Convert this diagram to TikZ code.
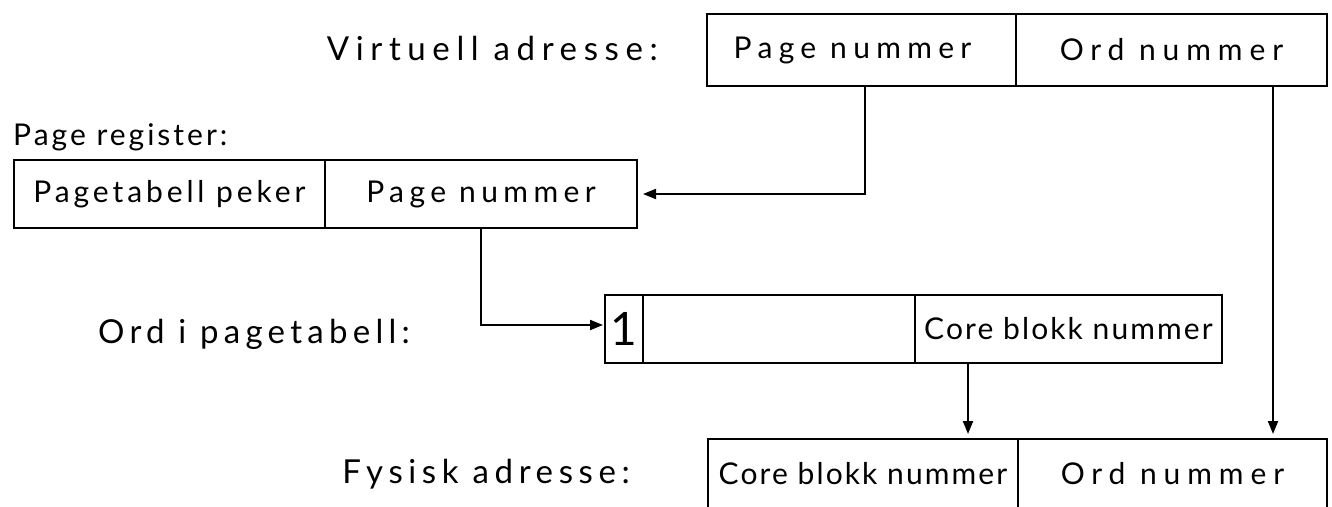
\documentclass[tikz,border=0pt]{standalone}
\usepackage{fontspec}
\setmainfont{Lato}
\newcommand{\lsp}[2]{{\addfontfeature{LetterSpace=#1}#2}}
\usetikzlibrary{arrows.meta}
\begin{document}
\begin{tikzpicture}[x=1pt,y=-1pt,
  cell/.style={draw,line width=2pt,inner sep=0pt,minimum height=70pt,font=\fontsize{30}{33}\selectfont},
  lbl/.style={inner sep=0pt,font=\fontsize{33}{36}\selectfont},
  arr/.style={line width=2pt,-{Triangle[length=13pt,width=10pt]}}]
\useasboundingbox (0,0) rectangle (1332,506);
% Virtuell adresse
\node[cell,minimum width=309pt,minimum height=72pt] (vp) at (861.5,50) {\lsp{21}{Page nummer}\hspace*{18pt}};
\node[cell,minimum width=311pt,minimum height=72pt] (vo) at (1171.5,50) {\lsp{23}{Ord nummer}};
\node[lbl,anchor=base east] (vl) at (658,60) {\lsp{20}{Virtuell adresse:}};
% Page register
\node[lbl,anchor=base west,font=\fontsize{30}{33}\selectfont] (prl) at (13,145) {\lsp{10}{Page register:}};
\node[cell,minimum width=311pt,minimum height=68pt] (pp) at (169.5,194) {\lsp{13}{Pagetabell peker}};
\node[cell,minimum width=312pt,minimum height=68pt] (pn) at (481,194) {\lsp{18}{Page nummer}};
% Ord i pagetabell
\node[lbl,anchor=base west] (opl) at (98,343) {\lsp{16}{Ord i pagetabell:}};
\node[cell,minimum width=38pt,minimum height=68pt,font=\fontsize{46}{48}\selectfont] (c1) at (624,329) {1};
\node[cell,minimum width=272pt,minimum height=68pt] (c2) at (779,329) {};
\node[cell,minimum width=307pt,minimum height=68pt] (c3) at (1068.5,329) {\lsp{7}{Core blokk nummer}};
% Fysisk adresse
\node[lbl,anchor=base east] (fl) at (630,483) {\lsp{17}{Fysisk adresse:}};
\node[cell,minimum width=310pt] (fc) at (863,474) {\lsp{7}{Core blokk nummer}};
\node[cell,minimum width=309pt] (fo) at (1172.5,474) {\lsp{23}{Ord nummer}};
% connectors
\draw[arr,shorten >=5pt] ([xshift=3.5pt]vp.south) |- (pn.east);
\draw[arr,shorten >=1pt] (pn.south) |- ([yshift=4pt]c1.west);
\coordinate (a3) at ([xshift=-100.5pt]c3.south);
\draw[arr,shorten >=4pt] (a3) -- (a3 |- fc.north);
\coordinate (a4) at ([xshift=101.5pt]vo.south);
\draw[arr,shorten >=4pt] (a4) -- (a4 |- fo.north);
\end{tikzpicture}
\end{document}
